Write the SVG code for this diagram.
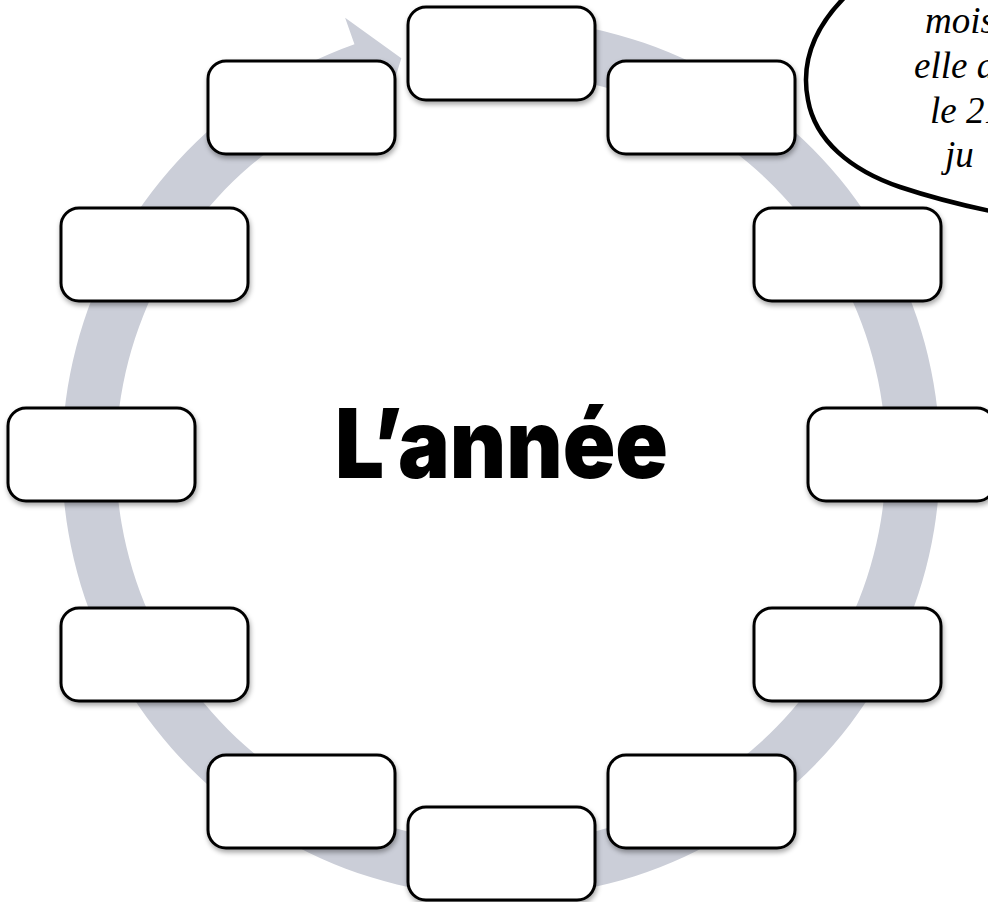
<svg xmlns="http://www.w3.org/2000/svg" width="988" height="902" viewBox="0 0 988 902">
  <style>
    .box { fill: #ffffff; stroke: #000000; stroke-width: 3; filter: url(#shadow); }
    .ring { fill: #cbced8; }
    .bubble { fill: #ffffff; stroke: #000000; stroke-width: 4.5; }
    .script { font-family: "Liberation Serif", "DejaVu Serif", serif; font-style: italic; font-size: 37px; fill: #000000; }
    .title { font-family: "Inter", "Lato", "DejaVu Sans", sans-serif; font-weight: 900; font-size: 96px; fill: #000000; }
  </style>
  <defs>
    <filter id="shadow" x="-20%" y="-20%" width="140%" height="150%">
      <feDropShadow dx="1" dy="3" stdDeviation="2.5" flood-color="#000000" flood-opacity="0.35"/>
    </filter>
  </defs>
  <rect x="0" y="0" width="988" height="902" fill="#ffffff"/>

  <g id="connectors">
    <path class="ring" d="M 539.26,20.67 A 439 439 0 1 1 354.46,44.18 L 345.11,17.79 L 401.33,58.23 L 381.83,121.48 L 372.48,95.08 A 385 385 0 1 0 534.56,74.47 Z"/>
  </g>

  <g id="node-1"><rect class="box" x="408" y="7" width="187" height="93" rx="18"/></g>
  <g id="node-2"><rect class="box" x="608" y="61" width="187" height="93" rx="18"/></g>
  <g id="node-3"><rect class="box" x="754" y="208" width="187" height="93" rx="18"/></g>
  <g id="node-4"><rect class="box" x="808" y="408" width="187" height="93" rx="18"/></g>
  <g id="node-5"><rect class="box" x="754" y="608" width="187" height="93" rx="18"/></g>
  <g id="node-6"><rect class="box" x="608" y="755" width="187" height="93" rx="18"/></g>
  <g id="node-7"><rect class="box" x="408" y="807" width="187" height="93" rx="18"/></g>
  <g id="node-8"><rect class="box" x="208" y="755" width="187" height="93" rx="18"/></g>
  <g id="node-9"><rect class="box" x="61" y="608" width="187" height="93" rx="18"/></g>
  <g id="node-10"><rect class="box" x="8" y="408" width="187" height="93" rx="18"/></g>
  <g id="node-11"><rect class="box" x="61" y="208" width="187" height="93" rx="18"/></g>
  <g id="node-12"><rect class="box" x="208" y="61" width="187" height="93" rx="18"/></g>

  <g id="title">
    <text class="title" x="335" y="478" textLength="333" lengthAdjust="spacingAndGlyphs">L’année</text>
  </g>

  <g id="bubble">
    <path class="bubble" d="M 850,-8 C 815,25 800,60 808,100 C 815,140 850,170 900,187 C 930,197 960,205 1000,213 L 1000,-8 Z"/>
    <text class="script" x="925" y="33">mois</text>
    <text class="script" x="914" y="78">elle a</text>
    <text class="script" x="930" y="123">le 21</text>
    <text class="script" x="945" y="167">ju</text>
  </g>
</svg>
